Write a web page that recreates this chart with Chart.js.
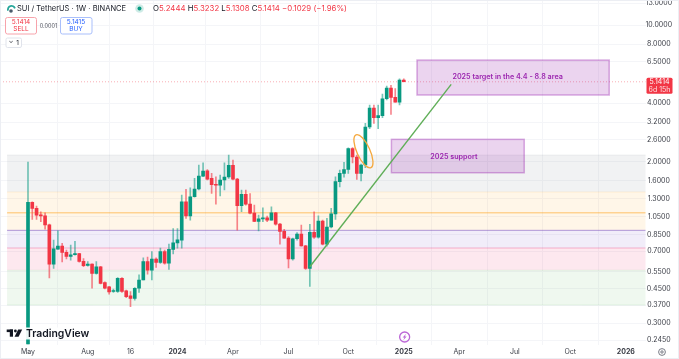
<!DOCTYPE html>
<html>
<head>
<meta charset="utf-8">
<script src="https://cdn.jsdelivr.net/npm/chart.js@4/dist/chart.umd.min.js"></script>
<style>
html,body{margin:0;padding:0;background:#fff;overflow:hidden}
canvas{display:block;filter:blur(0.3px)}
</style>
</head>
<body>
<canvas id="c" width="679" height="359"></canvas>
<script>
const opens  = [0.235,1.243,1.158,1.073,1.062,0.954,0.601,0.717,0.743,0.69,0.658,0.671,0.68,0.62,0.592,0.6,0.539,0.582,0.483,0.459,0.435,0.435,0.508,0.438,0.413,0.401,0.452,0.498,0.618,0.56,0.638,0.613,0.696,0.608,0.714,0.772,0.797,1.25,1.058,1.328,1.454,1.694,1.8,1.65,1.53,1.52,1.617,1.675,1.925,1.635,1.195,1.367,1.218,1.094,0.994,1.024,1.036,1.009,1.1,0.962,0.883,0.816,0.638,0.81,0.855,0.745,0.571,0.873,0.824,0.997,0.76,0.93,1.085,1.587,1.75,1.83,2.338,2.12,1.75,1.93,3.018,3.775,3.37,3.45,4.21,4.78,4.28,4.05,5.2444];
const highs  = [2.0,1.25,1.19,1.113,1.10,0.962,0.797,0.889,0.767,0.709,0.752,0.785,0.682,0.642,0.618,0.602,0.618,0.585,0.488,0.462,0.448,0.512,0.512,0.443,0.435,0.456,0.53,0.647,0.652,0.696,0.647,0.725,0.709,0.76,0.914,0.914,1.355,1.449,1.476,1.65,1.93,1.98,1.83,1.75,1.68,1.715,1.98,2.17,2.046,1.65,1.437,1.437,1.38,1.204,1.07,1.165,1.058,1.18,1.105,0.97,0.905,0.83,0.815,0.87,0.95,0.75,0.96,1.113,1.06,1.01,1.03,1.158,1.68,1.819,1.99,2.36,2.37,2.17,1.95,3.15,3.91,3.91,3.91,4.45,4.89,4.93,4.75,5.33,5.3232];
const lows   = [0.235,1.017,1.017,0.99,0.907,0.511,0.571,0.714,0.617,0.638,0.63,0.668,0.615,0.582,0.587,0.452,0.534,0.475,0.448,0.421,0.43,0.43,0.43,0.405,0.364,0.393,0.43,0.498,0.534,0.498,0.577,0.606,0.601,0.565,0.677,0.725,0.725,1.028,1.009,1.32,1.437,1.68,1.617,1.38,1.218,1.34,1.437,1.65,1.617,0.897,1.113,1.204,1.085,0.99,0.889,0.99,0.99,1.009,0.95,0.76,0.812,0.575,0.63,0.797,0.743,0.565,0.462,0.812,0.815,0.752,0.743,0.921,1.017,1.49,1.67,1.75,1.98,1.63,1.6,1.87,2.96,3.15,2.96,3.37,4.148,3.5,4.04,3.91,5.1308];
const closes = [1.243,1.158,1.07,1.058,0.954,0.601,0.72,0.743,0.69,0.658,0.671,0.68,0.62,0.589,0.6,0.539,0.582,0.479,0.453,0.433,0.44,0.508,0.435,0.409,0.401,0.452,0.498,0.618,0.56,0.638,0.613,0.696,0.608,0.714,0.772,0.8,1.25,1.058,1.328,1.454,1.694,1.798,1.635,1.53,1.52,1.617,1.675,1.925,1.635,1.195,1.367,1.218,1.094,0.994,1.024,1.036,1.009,1.1,0.962,0.883,0.816,0.638,0.81,0.855,0.745,0.571,0.873,0.824,0.997,0.76,0.93,1.085,1.587,1.75,1.83,2.338,2.12,1.75,1.93,3.018,3.775,3.37,3.45,4.21,4.78,4.28,4.05,5.2444,5.1414];

const yTickValues = [13,10,8,6.5,4,3.2,2.6,2,1.6,1.3,1.05,0.85,0.7,0.55,0.45,0.37,0.3,0.245];
const xTickWeeks  = [0,14,24,35,48,61,75,88,101,114,127,140];
const xTickLabels = ['May','Aug','16','2024','Apr','Jul','Oct','2025','Apr','Jul','Oct','2026'];
const boldLabels  = ['2024','2025','2026'];

const fibLevels = [2.17,1.404,1.10,0.894,0.726,0.559,0.371];
const fibFills  = ['rgba(120,123,134,0.10)','rgba(255,152,0,0.09)','rgba(255,152,0,0.09)','rgba(103,58,183,0.09)','rgba(233,30,99,0.10)','rgba(76,175,80,0.09)'];
const fibLines  = ['rgba(120,123,134,0.10)','rgba(255,152,0,0.12)','rgba(255,152,0,0.38)','rgba(103,58,183,0.5)','rgba(233,30,99,0.2)','rgba(76,175,80,0.1)','rgba(76,175,80,0.12)'];
const fibWeekStart = -4.9;

const trendWeeks  = [66,99.1];
const trendPrices = [0.582,4.99];
const ellipseWeeks  = [76.8,80.3];
const ellipsePrices = [2.75,1.87];
const targetBox  = {w0:91.1,w1:136.1,p0:6.64,p1:4.40,text:'2025 target in the 4.4 - 8.8 area',textPrice:5.45};
const supportBox = {w0:85.1,w1:116.2,p0:2.61,p1:1.762,text:'2025 support',textPrice:2.12};

const UP='#089981', DOWN='#f23645';
const weeks = closes.map((_,i)=>i);
const isUp = i => closes[i]>=opens[i];

const overlays = {
  id:'overlays',
  beforeDatasetsDraw(chart){
    const {ctx,scales:{x,y},chartArea:a}=chart;
    ctx.save();
    const xl=x.getPixelForValue(fibWeekStart);
    for(let i=0;i<fibFills.length;i++){
      const t=y.getPixelForValue(fibLevels[i]),b=y.getPixelForValue(fibLevels[i+1]);
      ctx.fillStyle=fibFills[i];
      ctx.fillRect(xl,t,a.right-xl,b-t);
    }
    fibLevels.forEach((v,i)=>{
      const p=y.getPixelForValue(v);
      ctx.strokeStyle=fibLines[i];ctx.lineWidth=(i===2||i===4)?1.5:1;
      ctx.beginPath();ctx.moveTo(xl,p);ctx.lineTo(a.right,p);ctx.stroke();
    });
    const py=y.getPixelForValue(closes[closes.length-1]);
    ctx.strokeStyle='rgba(242,54,69,0.4)';ctx.lineWidth=1;ctx.setLineDash([1,2]);
    ctx.beginPath();ctx.moveTo(0,py);ctx.lineTo(a.right,py);ctx.stroke();ctx.setLineDash([]);
    [targetBox,supportBox].forEach(b=>{
      const x0=x.getPixelForValue(b.w0),x1=x.getPixelForValue(b.w1),
            y0=y.getPixelForValue(b.p0),y1=y.getPixelForValue(b.p1);
      ctx.fillStyle='rgba(156,39,176,0.2)';ctx.fillRect(x0,y0,x1-x0,y1-y0);
      ctx.strokeStyle='rgba(156,39,176,0.38)';ctx.lineWidth=1.5;ctx.strokeRect(x0,y0,x1-x0,y1-y0);
    });
    ctx.restore();
  },
  afterDatasetsDraw(chart){
    const {ctx,scales:{x,y},chartArea:a}=chart;
    ctx.save();
    const ex0=x.getPixelForValue(ellipseWeeks[0]),ey0=y.getPixelForValue(ellipsePrices[0]),
          ex1=x.getPixelForValue(ellipseWeeks[1]),ey1=y.getPixelForValue(ellipsePrices[1]);
    ctx.strokeStyle='#f5a83c';ctx.lineWidth=1.3;
    ctx.beginPath();
    ctx.ellipse((ex0+ex1)/2,(ey0+ey1)/2,Math.hypot(ex1-ex0,ey1-ey0)/2,6.5,Math.atan2(ey1-ey0,ex1-ex0),0,Math.PI*2);
    ctx.stroke();
    ctx.fillStyle='#9c27b0';ctx.textAlign='center';ctx.textBaseline='middle';
    ctx.font='600 7.2px Inter';
    ctx.fillText(targetBox.text,(x.getPixelForValue(targetBox.w0)+x.getPixelForValue(targetBox.w1))/2-5.5,y.getPixelForValue(targetBox.textPrice));
    ctx.fillText(supportBox.text,(x.getPixelForValue(supportBox.w0)+x.getPixelForValue(supportBox.w1))/2-4,y.getPixelForValue(supportBox.textPrice));
    const last=closes[closes.length-1],py=y.getPixelForValue(last);
    ctx.fillStyle=DOWN;
    ctx.beginPath();ctx.roundRect(a.right+1,py-4,26,16,1.5);ctx.fill();
    ctx.fillStyle='#fff';ctx.font='7px Inter';
    ctx.fillText(last.toFixed(4),a.right+14,py+0.5);
    ctx.fillStyle='rgba(255,255,255,0.85)';
    ctx.fillText('6d 15h',a.right+14,py+8);
    ctx.fillStyle='rgba(255,255,255,0.92)';ctx.fillRect(25,327.5,66,12);
    ctx.fillStyle='#131722';
    ctx.fillRect(6.7,329.5,6.3,2.6);ctx.fillRect(9.8,329.5,3.2,7.2);
    ctx.beginPath();ctx.arc(15.4,331,1.4,0,Math.PI*2);ctx.fill();
    ctx.beginPath();ctx.moveTo(18.2,329.5);ctx.lineTo(22.2,329.5);ctx.lineTo(18.6,336.7);ctx.lineTo(14.6,336.7);ctx.closePath();ctx.fill();
    ctx.font='600 10.4px Inter';ctx.textAlign='left';ctx.textBaseline='middle';
    ctx.fillText('TradingView',26,333.5);
    const bx=x.getPixelForValue(88.2),by=337;
    ctx.strokeStyle='#bb66d6';ctx.lineWidth=1.3;
    ctx.beginPath();ctx.arc(bx,by,5,0,Math.PI*2);ctx.stroke();
    ctx.fillStyle='#bb66d6';
    ctx.beginPath();ctx.moveTo(bx+1.4,by-3.2);ctx.lineTo(bx-2,by+0.6);ctx.lineTo(bx-0.2,by+0.6);ctx.lineTo(bx-1.4,by+3.2);ctx.lineTo(bx+2,by-0.6);ctx.lineTo(bx+0.2,by-0.6);ctx.closePath();ctx.fill();
    ctx.textBaseline='middle';ctx.textAlign='left';
    ctx.strokeStyle='#26a69a';ctx.lineWidth=1.8;
    ctx.beginPath();ctx.arc(11.5,9.5,3.6,Math.PI*0.9,Math.PI*1.9);ctx.stroke();
    ctx.fillStyle='#4a5a6a';ctx.beginPath();ctx.arc(11,11,1.8,0,Math.PI*2);ctx.fill();
    ctx.fillStyle='#131722';ctx.font='7.5px Inter';
    ctx.fillText('SUI / TetherUS · 1W · BINANCE',17,9);
    ctx.fillStyle='rgba(8,153,129,0.2)';ctx.beginPath();ctx.arc(139.5,8.5,4.3,0,Math.PI*2);ctx.fill();
    ctx.fillStyle=UP;ctx.beginPath();ctx.arc(139.5,8.5,2,0,Math.PI*2);ctx.fill();
    ctx.font='7.8px Inter';
    const parts=[['O','#131722'],[opens[88].toFixed(4),DOWN],[' H','#131722'],[highs[88].toFixed(4),DOWN],[' L','#131722'],[lows[88].toFixed(4),DOWN],[' C','#131722'],[last.toFixed(4),DOWN],[' −0.1029 (−1.96%)',DOWN]];
    let tx=153;
    parts.forEach(([t,c])=>{ctx.fillStyle=c;ctx.fillText(t,tx,9);tx+=ctx.measureText(t).width;});
    ctx.lineWidth=1;ctx.textAlign='center';
    ctx.fillStyle='#fff';ctx.strokeStyle='#f7a3ab';ctx.beginPath();ctx.roundRect(5.5,17.5,31,16.5,2);ctx.fill();ctx.stroke();
    ctx.strokeStyle='#a9bffb';ctx.beginPath();ctx.roundRect(60.5,17.5,31.5,16.5,2);ctx.fill();ctx.stroke();
    ctx.fillStyle=DOWN;ctx.font='6.5px Inter';ctx.fillText('5.1414',21,22);ctx.fillText('SELL',21,29.5);
    ctx.fillStyle='#2962ff';ctx.fillText('5.1415',76,22);ctx.fillText('BUY',76,29.5);
    ctx.fillStyle='#50535e';ctx.font='5.5px Inter';ctx.fillText('0.0001',48.5,26);
    ctx.fillStyle='#fff';ctx.strokeStyle='#e0e3eb';ctx.beginPath();ctx.roundRect(6,38,15.5,9.5,1.5);ctx.fill();ctx.stroke();
    ctx.fillStyle='#131722';ctx.font='6.5px Inter';ctx.fillText('⌄',11,41.5);ctx.fillText('1',17.5,43);
    ctx.strokeStyle='#6a6d78';ctx.lineWidth=0.9;
    ctx.beginPath();ctx.arc(662,352,3.4,0,Math.PI*2);ctx.stroke();
    ctx.beginPath();ctx.arc(662,352,1.2,0,Math.PI*2);ctx.stroke();
    ctx.strokeStyle='#eceef3';ctx.lineWidth=1;ctx.strokeRect(0.5,0.5,678,358);
    ctx.restore();
  }
};

new Chart(document.getElementById('c'),{
  type:'bar',
  data:{datasets:[
    {type:'line',data:trendWeeks.map((w,i)=>({x:w,y:trendPrices[i]})),
     borderColor:'#5fae57',borderWidth:1.4,pointRadius:0,fill:false,tension:0,order:0},
    {label:'body',data:weeks.map(i=>({x:i,y:[Math.min(opens[i],closes[i]),Math.max(opens[i],closes[i])]})),
     backgroundColor:c=>isUp(c.dataIndex)?UP:DOWN,barThickness:3,minBarLength:1,grouped:false,order:1},
    {label:'wick',data:weeks.map(i=>({x:i,y:[lows[i],highs[i]]})),
     backgroundColor:c=>isUp(c.dataIndex)?'rgba(8,153,129,0.55)':'rgba(242,54,69,0.6)',barThickness:1,grouped:false,order:2}
  ]},
  options:{
    responsive:false,animation:false,
    layout:{padding:0},
    plugins:{legend:{display:false},tooltip:{enabled:false}},
    scales:{
      x:{type:'linear',min:-6.557,max:144.6,offset:false,
        border:{display:false},
        grid:{color:'#f4f5f8',drawTicks:false},
        afterBuildTicks(s){s.ticks=xTickWeeks.map(v=>({value:v}));},
        afterFit(s){s.height=14;s.paddingLeft=0;s.paddingRight=0;},
        ticks:{autoSkip:false,maxRotation:0,padding:3,color:'#3a3d46',
          font:c=>({family:'Inter',size:7,weight:boldLabels.includes(xTickLabels[c.index])?'700':'400'}),
          callback:v=>xTickLabels[xTickWeeks.indexOf(v)]}
      },
      y:{type:'logarithmic',position:'right',min:0.2317,max:13.47,
        border:{display:false},
        grid:{color:'#f4f5f8',drawTicks:false},
        afterBuildTicks(s){s.ticks=yTickValues.map(v=>({value:v}));},
        afterFit(s){s.width=33.5;s.paddingTop=0;s.paddingBottom=0;},
        ticks:{autoSkip:false,crossAlign:'center',padding:0,color:'#3a3d46',font:{family:'Inter',size:7},
          callback:v=>Number(v).toFixed(4)}
      }
    }
  },
  plugins:[overlays]
});
</script>
</body>
</html>
